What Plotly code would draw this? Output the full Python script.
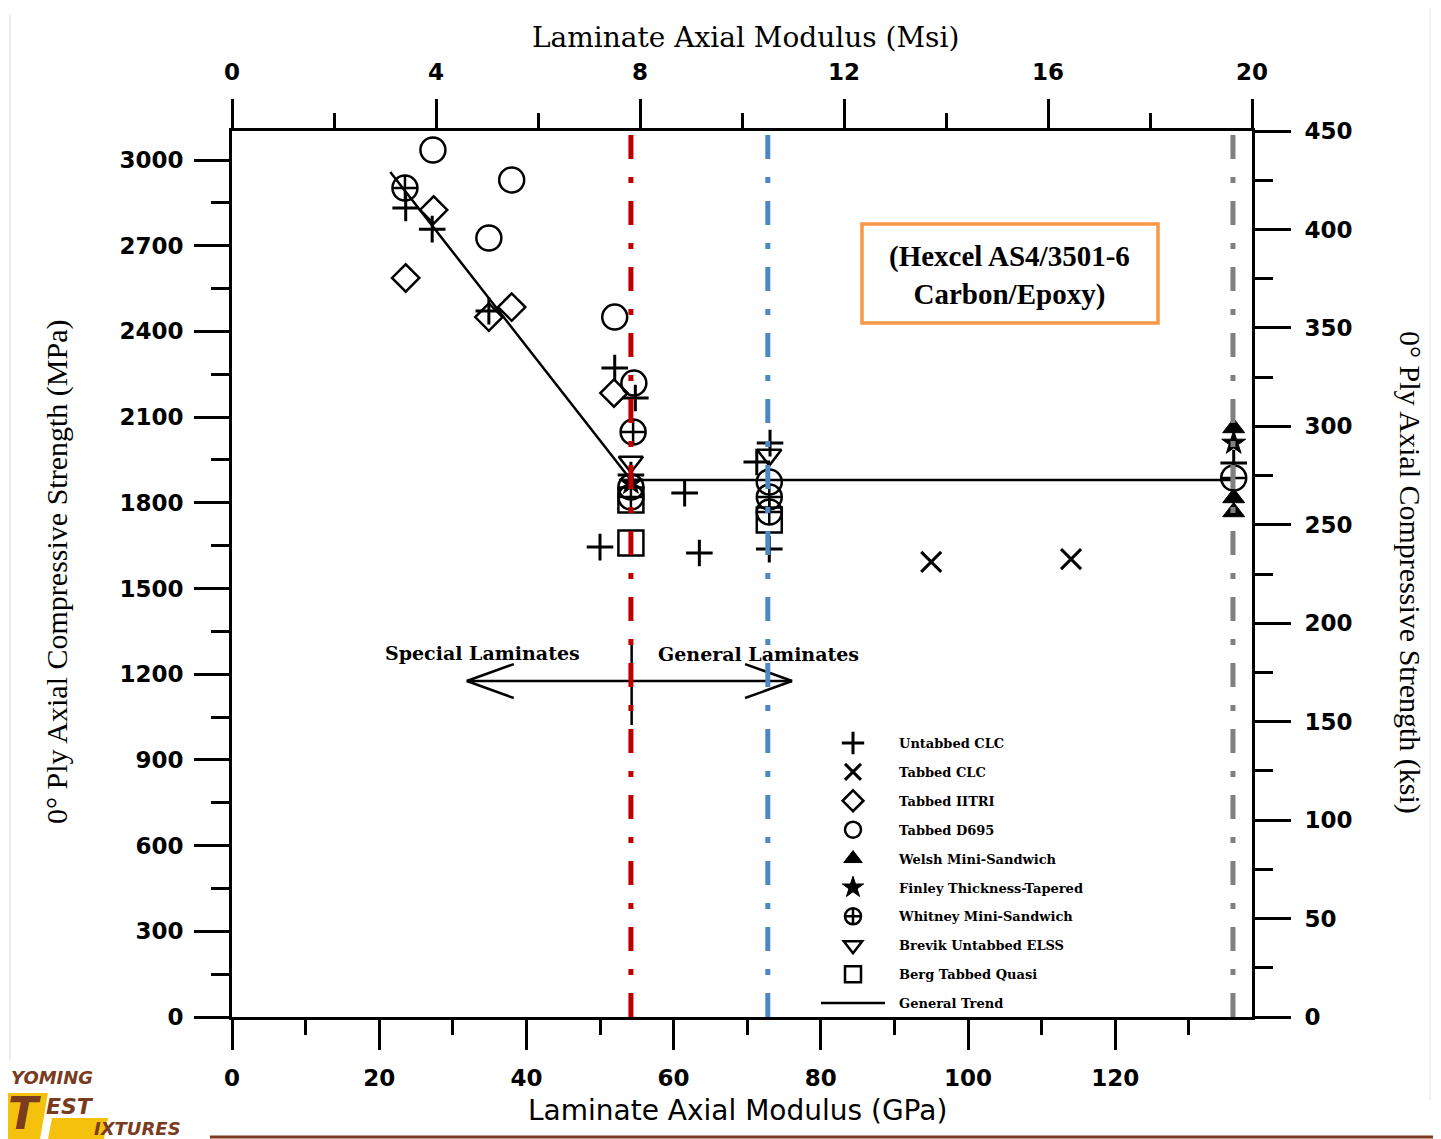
import plotly.graph_objects as go

# ---------------- data (GPa, MPa) ----------------
untabbed_clc_x = [23.6, 27.2, 34.9, 52.0, 54.8, 54.2, 50.0, 61.5, 63.5, 71.3, 73.1, 73.0, 136.1]
untabbed_clc_y = [2832, 2758, 2471, 2272, 2167, 1897, 1645, 1834, 1624, 1943, 2009, 1638, 1939]

tabbed_clc_x = [95.0, 114.0]
tabbed_clc_y = [1593, 1603]

tabbed_iitri_x = [23.6, 27.4, 34.9, 38.0, 51.9]
tabbed_iitri_y = [2587, 2825, 2450, 2485, 2184]

tabbed_d695_x = [27.3, 38.0, 34.9, 52.0, 54.6, 73.0, 54.2]
tabbed_d695_y = [3035, 2930, 2727, 2450, 2219, 1873, 1855]

welsh_x = [136.1, 136.1, 136.1]
welsh_y = [2062, 1817, 1768]

finley_x = [136.1, 54.2]
finley_y = [2009, 1869]

whitney_x = [23.5, 54.5, 54.2, 73.0, 73.0, 136.1]
whitney_y = [2902, 2048, 1820, 1820, 1768, 1887]

brevik_x = [54.2, 73.0]
brevik_y = [1943, 1967]

berg_x = [54.2, 54.2, 73.0]
berg_y = [1659, 1810, 1740]

trend_x = [21.5, 54.2, 136.0]
trend_y = [2958, 1880, 1880]

vline_x = [54.2, 72.8, 136.0]
vline_colors = ["#C00000", "#4F86C6", "#808080"]

arrow_y = 1176
arrow_center = 54.3
arrow_left = 31.9
arrow_right = 76.1

# ---------------- layout geometry (reference-pixel frame) ----------------
OFF = 8                      # browser body margin
W, H = 1441 - OFF, 1139 - OFF
L, R, T, B = 232, 1252, 131, 1017   # plot area in reference pixels


def pxx(x):
    return (x - L) / (R - L)


def pxy(y):
    return (B - y) / (B - T)


GPA_PER_PX = 1 / 7.36
MPA_PER_PX = 3.5

fig = go.Figure()

series = [
    ("Untabbed CLC", untabbed_clc_x, untabbed_clc_y, "cross-thin-open", 19, 3),
    ("Tabbed CLC", tabbed_clc_x, tabbed_clc_y, "x-thin-open", 20, 3),
    ("Tabbed IITRI", tabbed_iitri_x, tabbed_iitri_y, "diamond-open", 21, 2.5),
    ("Tabbed D695", tabbed_d695_x, tabbed_d695_y, "circle-open", 25, 2.5),
    ("Welsh Mini-Sandwich", welsh_x, welsh_y, "triangle-up", 19, 1),
    ("Finley Thickness-Tapered", finley_x, finley_y, "star", 18, 1),
    ("Whitney Mini-Sandwich", whitney_x, whitney_y, "circle-cross-open", 25, 2.5),
    ("Brevik Untabbed ELSS", brevik_x, brevik_y, "triangle-down-open", 21, 2.5),
    ("Berg Tabbed Quasi", berg_x, berg_y, "square-open", 25, 2.5),
]

for name, xs, ys, sym, size, lw in series:
    fig.add_trace(go.Scatter(
        x=xs, y=ys, mode="markers", name="\u00a0\u00a0" + name,
        legendgroup=name,
        marker=dict(symbol=sym, size=size, color="black",
                    line=dict(color="black", width=lw)),
        hoverinfo="skip",
    ))

fig.add_trace(go.Scatter(
    x=trend_x, y=trend_y, mode="lines", name="\u00a0\u00a0General Trend",
    legendgroup="General Trend",
    line=dict(color="black", width=2.5), hoverinfo="skip",
))

# invisible trace to activate secondary axes
fig.add_trace(go.Scatter(
    x=[0, 20], y=[0, 450], xaxis="x2", yaxis="y2", mode="markers",
    marker=dict(opacity=0), showlegend=False, hoverinfo="skip",
))

tickfont = dict(family="DejaVu Sans", size=23, color="black", weight="bold")
axis_common = dict(showline=True, linewidth=3, linecolor="black", showgrid=False,
                   zeroline=False, ticks="outside", tickwidth=3, tickcolor="black",
                   tickfont=tickfont)

fig.update_layout(
    width=W, height=H, autosize=False,
    paper_bgcolor="white", plot_bgcolor="white",
    margin=dict(l=L - OFF, r=W - (R - OFF), t=T - OFF, b=H - (B - OFF), pad=0),
    xaxis=dict(range=[0, (R - L) * GPA_PER_PX], tick0=0, dtick=20, ticklen=30,
               ticklabelstandoff=8,
               minor=dict(dtick=10, ticks="outside", ticklen=15, tickwidth=3,
                          tickcolor="black", showgrid=False),
               **axis_common),
    xaxis2=dict(range=[0, 20], overlaying="x", side="top", anchor="y",
                tick0=0, dtick=4, ticklen=29, ticklabelstandoff=10,
                minor=dict(dtick=2, ticks="outside", ticklen=15, tickwidth=3,
                           tickcolor="black", showgrid=False),
                **axis_common),
    yaxis=dict(range=[0, 3101.5], tick0=0, dtick=300, ticklen=35,
               ticklabelstandoff=6,
               minor=dict(dtick=150, ticks="outside", ticklen=18, tickwidth=3,
                          tickcolor="black", showgrid=False),
               **axis_common),
    yaxis2=dict(range=[0, 450], overlaying="y", side="right", anchor="x",
                tick0=0, dtick=50, ticklen=36, ticklabelstandoff=9,
                minor=dict(dtick=25, ticks="outside", ticklen=18, tickwidth=3,
                           tickcolor="black", showgrid=False),
                **axis_common),
    showlegend=True,
    legend=dict(x=pxx(816), y=pxy(728), xanchor="left", yanchor="top",
                bgcolor="rgba(0,0,0,0)", borderwidth=0,
                font=dict(family="DejaVu Serif", size=13, color="black", weight="bold"),
                itemwidth=64, tracegroupgap=9, traceorder="grouped"),
)

shapes = []
# vertical black divider under the double arrow
shapes.append(dict(type="line", xref="x", yref="y", x0=arrow_center, x1=arrow_center,
                   y0=1022, y1=1320, line=dict(color="black", width=2.5), layer="above"))
# double arrow: shaft and open barbs
hl = 47 * GPA_PER_PX
hh = 17 * MPA_PER_PX
shapes.append(dict(type="line", xref="x", yref="y", x0=arrow_left, x1=arrow_right,
                   y0=arrow_y, y1=arrow_y, line=dict(color="black", width=2.5), layer="above"))
for tip, sgn in ((arrow_left, 1), (arrow_right, -1)):
    for s in (1, -1):
        shapes.append(dict(type="line", xref="x", yref="y", x0=tip, y0=arrow_y,
                           x1=tip + sgn * hl, y1=arrow_y + s * hh,
                           line=dict(color="black", width=2.5), layer="above"))
for vx, vc in zip(vline_x, vline_colors):
    shapes.append(dict(type="line", xref="x", yref="paper", x0=vx, x1=vx, y0=0, y1=1,
                       line=dict(color=vc, width=5, dash="24px,18px,6px,18px"),
                       layer="above"))
# orange box
shapes.append(dict(type="rect", xref="paper", yref="paper",
                   x0=pxx(862), x1=pxx(1158), y0=pxy(323), y1=pxy(224),
                   line=dict(color="#F79646", width=3.5), fillcolor="white", layer="above"))
# logo shapes (yellow)
shapes.append(dict(type="path", xref="paper", yref="paper",
                   path=f"M {pxx(6)},{pxy(1093)} L {pxx(48)},{pxy(1093)} L {pxx(40)},{pxy(1139)} L {pxx(0)},{pxy(1139)} Z",
                   fillcolor="#F4C20D", line=dict(width=0), layer="above"))
shapes.append(dict(type="path", xref="paper", yref="paper",
                   path=f"M {pxx(52)},{pxy(1118)} L {pxx(108)},{pxy(1118)} L {pxx(104)},{pxy(1139)} L {pxx(48)},{pxy(1139)} Z",
                   fillcolor="#F4C20D", line=dict(width=0), layer="above"))
# brown bottom rule
shapes.append(dict(type="line", xref="paper", yref="paper",
                   x0=pxx(210), x1=pxx(1441), y0=pxy(1137), y1=pxy(1137),
                   line=dict(color="#7A3B1E", width=3), layer="above"))
# faint scan borders
shapes.append(dict(type="line", xref="paper", yref="paper",
                   x0=pxx(10), x1=pxx(10), y0=pxy(15), y1=pxy(1060),
                   line=dict(color="#D8D8D8", width=1), layer="above"))
shapes.append(dict(type="line", xref="paper", yref="paper",
                   x0=pxx(1430), x1=pxx(1430), y0=pxy(0), y1=pxy(1100),
                   line=dict(color="#E4E4E4", width=1), layer="above"))
fig.update_layout(shapes=shapes)

ann = []
serif = "Liberation Serif"


def text(t, x, y, font, xanchor="center", yanchor="middle", angle=0):
    ann.append(dict(text=t, x=pxx(x), y=pxy(y), xref="paper", yref="paper",
                    xanchor=xanchor, yanchor=yanchor, textangle=angle,
                    showarrow=False, font=font))


# axis titles
text("Laminate Axial Modulus (Msi)", 745, 37, dict(family="DejaVu Serif", size=28, color="black"))
text("Laminate Axial Modulus (GPa)", 737, 1110, dict(family="DejaVu Sans", size=28, color="black"))
text("0° Ply Axial Compressive Strength (MPa)", 57, 572,
     dict(family=serif, size=30, color="black"), angle=-90)
text("0° Ply Axial Compressive Strength (ksi)", 1410, 572,
     dict(family=serif, size=30, color="black"), angle=90)
# box text
text("(Hexcel AS4/3501-6<br>Carbon/Epoxy)", 1009, 275,
     dict(family=serif, size=29, color="black", weight="bold"))
# laminate labels
text("Special Laminates", 482, 653, dict(family="DejaVu Serif", size=19, color="black", weight="bold"))
text("General Laminates", 758, 654, dict(family="DejaVu Serif", size=19, color="black", weight="bold"))
# logo text
brown = "#7A3B1E"
text("YOMING", 9, 1077, dict(family="DejaVu Sans", size=18, color=brown, weight="bold", style="italic"),
     xanchor="left")
text("T", 24, 1113, dict(family="DejaVu Sans", size=44, color=brown, weight="bold", style="italic"))
text("EST", 44, 1106, dict(family="DejaVu Sans", size=22, color=brown, weight="bold", style="italic"),
     xanchor="left")
text("IXTURES", 92, 1128, dict(family="DejaVu Sans", size=18, color=brown, weight="bold", style="italic"),
     xanchor="left")
fig.update_layout(annotations=ann)

fig.write_html("out.html")
